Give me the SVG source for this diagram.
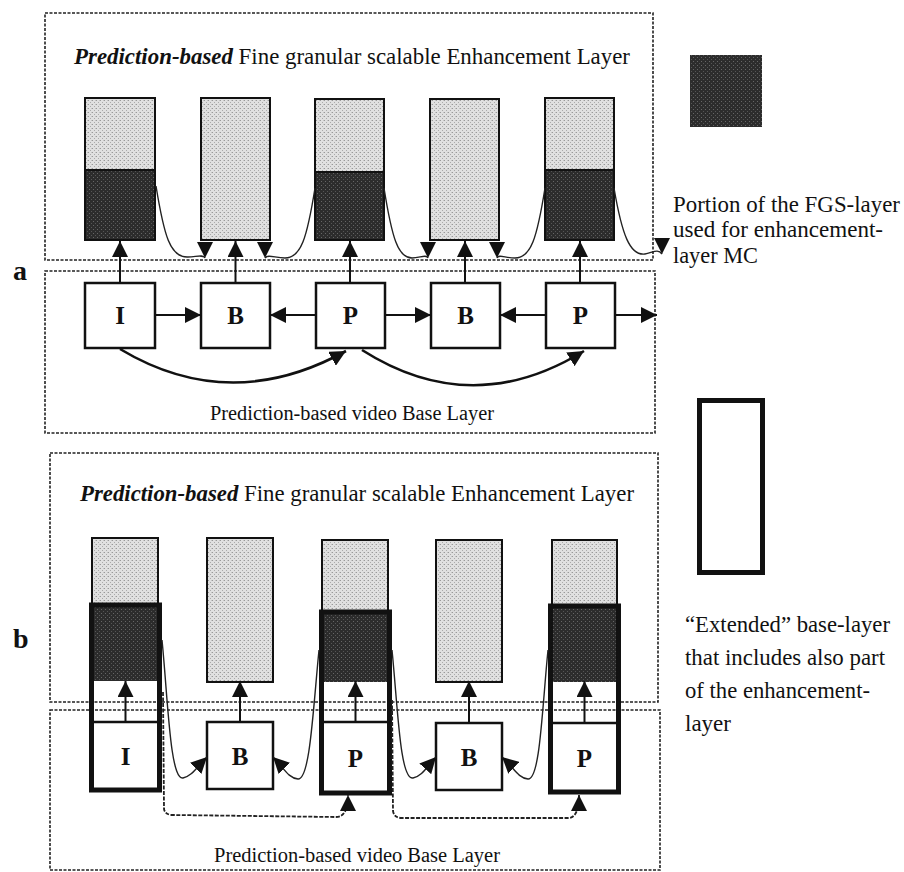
<svg xmlns="http://www.w3.org/2000/svg" width="904" height="872" viewBox="0 0 904 872">
<style>
.frame{fill:none;stroke:#222;stroke-width:1.6;stroke-dasharray:3 1.5}
.box{fill:#fff;stroke:#111;stroke-width:2.5}
.ebox{stroke:#111;stroke-width:2}
.ext{fill:none;stroke:#111;stroke-width:5}
.lt{fill:url(#lt)}
.dk{fill:url(#dk)}
.arr{fill:none;stroke:#111;stroke-width:2;marker-end:url(#ah)}
.thin{fill:none;stroke:#222;stroke-width:1.4}
.thinA{fill:none;stroke:#222;stroke-width:1.4;marker-end:url(#ah)}
.thinD{fill:none;stroke:#222;stroke-width:1.4;marker-end:url(#ahd)}
.dashA{fill:none;stroke:#222;stroke-width:1.8;stroke-dasharray:4 1.5;marker-end:url(#ah)}
.curve{fill:none;stroke:#111;stroke-width:2.6;marker-end:url(#ah)}
text{font-family:"Liberation Serif","Times New Roman",serif;fill:#111}
.lbl{font-size:25px;font-weight:bold;text-anchor:middle}
.title{font-size:23px}
.sub{font-size:20px}
.leg{font-size:23px}
.ab{font-size:28px;font-weight:bold}
</style>
<defs>
<pattern id="lt" width="4" height="4" patternUnits="userSpaceOnUse">
<rect width="4" height="4" fill="#e0e0e0"/>
<rect x="0" y="0" width="1" height="1" fill="#999"/>
<rect x="2" y="2" width="1" height="1" fill="#aaa"/>
<rect x="3" y="0" width="1" height="1" fill="#c4c4c4"/>
</pattern>
<pattern id="dk" width="4" height="4" patternUnits="userSpaceOnUse">
<rect width="4" height="4" fill="#2c2c2c"/>
<rect x="1" y="1" width="1" height="1" fill="#666"/>
<rect x="3" y="3" width="1" height="1" fill="#555"/>
</pattern>
<marker id="ah" viewBox="0 0 16 16" refX="16" refY="8" markerWidth="16" markerHeight="16" orient="auto" markerUnits="userSpaceOnUse">
<path d="M0,0 L16,8 L0,16 z" fill="#111"/>
</marker>
<marker id="ahd" viewBox="0 0 16 16" refX="16" refY="8" markerWidth="16" markerHeight="16" orient="90" markerUnits="userSpaceOnUse">
<path d="M0,0 L16,8 L0,16 z" fill="#111"/>
</marker>
</defs>
<rect width="904" height="872" fill="#fff"/>

<!-- Part a -->
<g id="a-enhancement-layer">
<rect class="frame" x="45" y="13" width="608" height="247"/>
<text class="title" x="74" y="64" textLength="556" lengthAdjust="spacingAndGlyphs"><tspan font-weight="bold" font-style="italic">Prediction-based</tspan> Fine granular scalable Enhancement Layer</text>
</g>
<g id="a-base-layer">
<rect class="frame" x="45" y="271" width="610" height="162"/>
<text class="sub" x="210" y="420" textLength="284" lengthAdjust="spacingAndGlyphs">Prediction-based video Base Layer</text>
</g>
<g id="a-label"><text class="ab" x="13" y="280">a</text></g>

<g id="a-enh-1"><rect class="ebox lt" x="85" y="98" width="70" height="142"/><rect class="ebox dk" x="85" y="170" width="70" height="70"/></g>
<g id="a-enh-2"><rect class="ebox lt" x="201" y="98" width="69" height="142"/></g>
<g id="a-enh-3"><rect class="ebox lt" x="315" y="99" width="69" height="141"/><rect class="ebox dk" x="315" y="172" width="69" height="68"/></g>
<g id="a-enh-4"><rect class="ebox lt" x="430" y="99" width="69" height="141"/></g>
<g id="a-enh-5"><rect class="ebox lt" x="545" y="98" width="69" height="142"/><rect class="ebox dk" x="545" y="170" width="69" height="70"/></g>

<g id="a-I"><rect class="box" x="85" y="283" width="70" height="65"/><text class="lbl" x="120" y="324">I</text></g>
<g id="a-B1"><rect class="box" x="201" y="283" width="69" height="65"/><text class="lbl" x="235.5" y="324">B</text></g>
<g id="a-P1"><rect class="box" x="316" y="283" width="69" height="65"/><text class="lbl" x="350.5" y="324">P</text></g>
<g id="a-B2"><rect class="box" x="431" y="283" width="69" height="65"/><text class="lbl" x="465.5" y="324">B</text></g>
<g id="a-P2"><rect class="box" x="546" y="283" width="69" height="65"/><text class="lbl" x="580.5" y="324">P</text></g>

<g id="a-connectors">
<path class="arr" d="M120,283 L120,241"/>
<path class="arr" d="M235.5,283 L235.5,241"/>
<path class="arr" d="M350,283 L350,241"/>
<path class="arr" d="M465,283 L465,241"/>
<path class="arr" d="M580,283 L580,241"/>
<path class="arr" d="M155,315 L201,315"/>
<path class="arr" d="M316,315 L270,315"/>
<path class="arr" d="M385,315 L431,315"/>
<path class="arr" d="M546,315 L500,315"/>
<path class="arr" d="M615,315 L657,315"/>
<path class="curve" d="M120,349 Q230,415 346,351"/>
<path class="curve" d="M362,350 Q472,420 584,351"/>
<path class="thinD" d="M156,186 C164,235 170,258 188,257 C196,257 203,254 205,258"/>
<path class="thinD" d="M315,188 C307,238 301,258 285,258 C275,258 268,254 265,258"/>
<path class="thinD" d="M384,188 C392,238 398,258 412,258 C420,258 426,254 428,258"/>
<path class="thinD" d="M545,188 C537,238 531,258 515,258 C505,258 499,254 497,258"/>
<path class="thinD" d="M614,188 C622,235 630,256 645,254 C652,253 658,248 662,254"/>
</g>

<g id="a-legend">
<rect class="dk" x="690" y="55" width="72" height="72"/>
<text class="leg" x="673" y="212" textLength="227" lengthAdjust="spacingAndGlyphs">Portion of the FGS-layer</text>
<text class="leg" x="673" y="237" textLength="210" lengthAdjust="spacingAndGlyphs">used for enhancement-</text>
<text class="leg" x="673" y="263" textLength="85" lengthAdjust="spacingAndGlyphs">layer MC</text>
</g>

<!-- Part b -->
<g id="b-enhancement-layer">
<rect class="frame" x="50" y="453" width="608" height="249"/>
<text class="title" x="80" y="501" textLength="554" lengthAdjust="spacingAndGlyphs"><tspan font-weight="bold" font-style="italic">Prediction-based</tspan> Fine granular scalable Enhancement Layer</text>
</g>
<g id="b-base-layer">
<rect class="frame" x="50" y="710" width="610" height="160"/>
<text class="sub" x="214" y="862" textLength="286" lengthAdjust="spacingAndGlyphs">Prediction-based video Base Layer</text>
</g>
<g id="b-label"><text class="ab" x="13" y="648">b</text></g>

<g id="b-col-I">
<rect class="ebox lt" x="92" y="538" width="66" height="67"/>
<rect class="dk" x="91.5" y="605" width="68" height="76"/>
<rect class="ext" x="91.5" y="605" width="68" height="185"/>
<line x1="91.5" y1="722" x2="159.5" y2="722" stroke="#111" stroke-width="2.5"/>
<text class="lbl" x="125.5" y="765">I</text>
</g>
<g id="b-col-B1">
<rect class="ebox lt" x="207" y="538" width="66" height="144"/>
<rect class="box" x="207" y="722" width="66" height="67"/>
<text class="lbl" x="240" y="765">B</text>
</g>
<g id="b-col-P1">
<rect class="ebox lt" x="322" y="540" width="66" height="72"/>
<rect class="dk" x="321.5" y="612" width="68" height="70"/>
<rect class="ext" x="321.5" y="612" width="68" height="181"/>
<line x1="321.5" y1="722" x2="389.5" y2="722" stroke="#111" stroke-width="2.5"/>
<text class="lbl" x="355.5" y="767">P</text>
</g>
<g id="b-col-B2">
<rect class="ebox lt" x="436" y="540" width="66" height="142"/>
<rect class="box" x="436" y="723" width="66" height="67"/>
<text class="lbl" x="469" y="766">B</text>
</g>
<g id="b-col-P2">
<rect class="ebox lt" x="552" y="540" width="65" height="66"/>
<rect class="dk" x="550.5" y="606" width="68" height="76"/>
<rect class="ext" x="550.5" y="606" width="68" height="186"/>
<line x1="550.5" y1="723" x2="618.5" y2="723" stroke="#111" stroke-width="2.5"/>
<text class="lbl" x="584.5" y="767">P</text>
</g>

<g id="b-connectors">
<path class="arr" d="M125.5,722 L125.5,681"/>
<path class="arr" d="M240,722 L240,681"/>
<path class="arr" d="M355.5,722 L355.5,681"/>
<path class="arr" d="M469,723 L469,681"/>
<path class="arr" d="M584.5,723 L584.5,681"/>
<path class="thinA" d="M162,640 C168,700 170,780 183,778 C192,776 196,768 207,757"/>
<path class="thinA" d="M319,650 C313,710 310,780 298,779 C288,778 284,768 273,757"/>
<path class="thinA" d="M392,650 C398,710 400,780 413,778 C422,776 426,768 436,757"/>
<path class="thinA" d="M548,650 C542,710 540,780 528,779 C518,778 514,768 502,757"/>
<path class="dashA" d="M163,692 L164,809 Q165,815 173,815 L336,817 Q348,817 348,795"/>
<path class="dashA" d="M392,700 L393,811 Q394,818 402,818 L568,818 Q579,818 579,795"/>
</g>

<g id="b-legend">
<rect class="ext" x="699.5" y="400.5" width="63" height="172"/>
<text class="leg" x="685" y="632" textLength="205" lengthAdjust="spacingAndGlyphs">“Extended” base-layer</text>
<text class="leg" x="685" y="665" textLength="200" lengthAdjust="spacingAndGlyphs">that includes also part</text>
<text class="leg" x="685" y="698" textLength="185" lengthAdjust="spacingAndGlyphs">of the enhancement-</text>
<text class="leg" x="685" y="731" textLength="46" lengthAdjust="spacingAndGlyphs">layer</text>
</g>
</svg>
